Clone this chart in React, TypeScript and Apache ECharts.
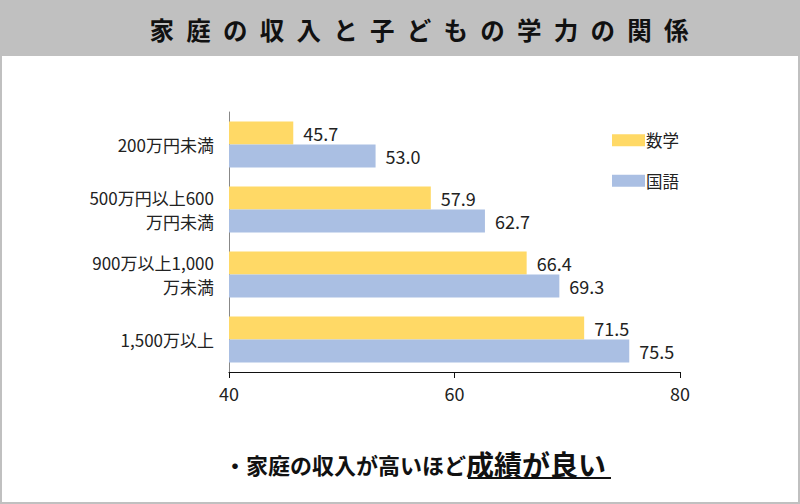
import React, { useEffect, useRef } from 'react';
import * as echarts from 'echarts';

const FONT = '"Noto Sans CJK JP", "Noto Sans", sans-serif';

const categories = ['200万円未満', '500万円以上600\n万円未満', '900万以上1,000\n万未満', '1,500万以上'];
const mathScores = [45.7, 57.9, 66.4, 71.5];
const japaneseScores = [53.0, 62.7, 69.3, 75.5];
const seriesNames = ['数学', '国語'];
const titleText = '家庭の収入と子どもの学力の関係';
const noteLead = '・家庭の収入が高いほど';
const noteEmph = '成績が良い';

const App: React.FC = () => {
  const chartRef = useRef<HTMLDivElement>(null);

  useEffect(() => {
    if (!chartRef.current) return;
    const chart = echarts.init(chartRef.current, undefined, { renderer: 'svg' });

    const valueLabel = {
      show: true,
      position: 'right' as const,
      distance: 10,
      fontSize: 18,
      color: '#222',
      fontFamily: FONT,
      formatter: (p: any) => Number(p.value).toFixed(1)
    };

    const option: echarts.EChartsOption = {
      animation: false,
      backgroundColor: '#fff',
      textStyle: { fontFamily: FONT },
      legend: {
        orient: 'vertical',
        left: 607,
        top: 127,
        itemWidth: 33,
        itemHeight: 12,
        itemGap: 24,
        icon: 'rect',
        data: seriesNames,
        textStyle: { fontSize: 16.5, color: '#222', fontFamily: FONT, padding: [0, 0, 0, -4] }
      },
      grid: { left: 229, top: 112, width: 451, height: 260, containLabel: false },
      xAxis: {
        type: 'value',
        min: 40,
        max: 80,
        interval: 20,
        axisLine: { show: true, lineStyle: { color: '#111', width: 1.2 } },
        axisTick: { show: true, length: 6, lineStyle: { color: '#111' } },
        splitLine: { show: false },
        axisLabel: { fontSize: 18, color: '#222', margin: 12, fontFamily: FONT }
      },
      yAxis: {
        type: 'category',
        inverse: true,
        data: categories,
        axisLine: { show: true, lineStyle: { color: '#888', width: 1 } },
        axisTick: { show: false },
        axisLabel: { fontSize: 17, color: '#222', margin: 15, lineHeight: 24, fontFamily: FONT }
      },
      series: [
        {
          name: seriesNames[0],
          type: 'bar',
          data: mathScores,
          barWidth: 23,
          barGap: '0%',
          itemStyle: { color: '#FFD966' },
          label: valueLabel
        },
        {
          name: seriesNames[1],
          type: 'bar',
          data: japaneseScores,
          barWidth: 23,
          barGap: '0%',
          itemStyle: { color: '#AABFE3' },
          label: valueLabel
        }
      ],
      graphic: [
        {
          type: 'rect',
          shape: { x: 0, y: 0, width: 800, height: 56 },
          style: { fill: '#c0c0c0' },
          z: 10
        },
        {
          type: 'text',
          x: 419,
          y: 29,
          z: 11,
          style: {
            text: titleText.split('').join('\u2002'),
            fontSize: 24.5,
            fontWeight: 'bold',
            fontFamily: FONT,
            fill: '#111',
            align: 'center',
            verticalAlign: 'middle'
          }
        },
        {
          type: 'text',
          x: 224,
          y: 464,
          z: 11,
          style: {
            text: `{a|${noteLead}}{b|${noteEmph}}`,
            verticalAlign: 'middle',
            rich: {
              a: { fontSize: 22, fontWeight: 'bold', fontFamily: FONT, fill: '#111' },
              b: { fontSize: 28, fontWeight: 'bold', fontFamily: FONT, fill: '#111' }
            }
          }
        },
        {
          type: 'line',
          z: 11,
          shape: { x1: 468, y1: 478, x2: 611, y2: 478 },
          style: { stroke: '#111', lineWidth: 2 }
        },
        {
          type: 'rect',
          shape: { x: 1, y: 1, width: 798, height: 502 },
          style: { fill: 'none', stroke: '#c0c0c0', lineWidth: 2 },
          z: 12
        }
      ]
    };

    chart.setOption(option);
    return () => {
      chart.dispose();
    };
  }, []);

  return (
    <div
      ref={chartRef}
      style={{ position: 'fixed', left: 0, top: 0, width: '800px', height: '504px' }}
    />
  );
};

export default App;
